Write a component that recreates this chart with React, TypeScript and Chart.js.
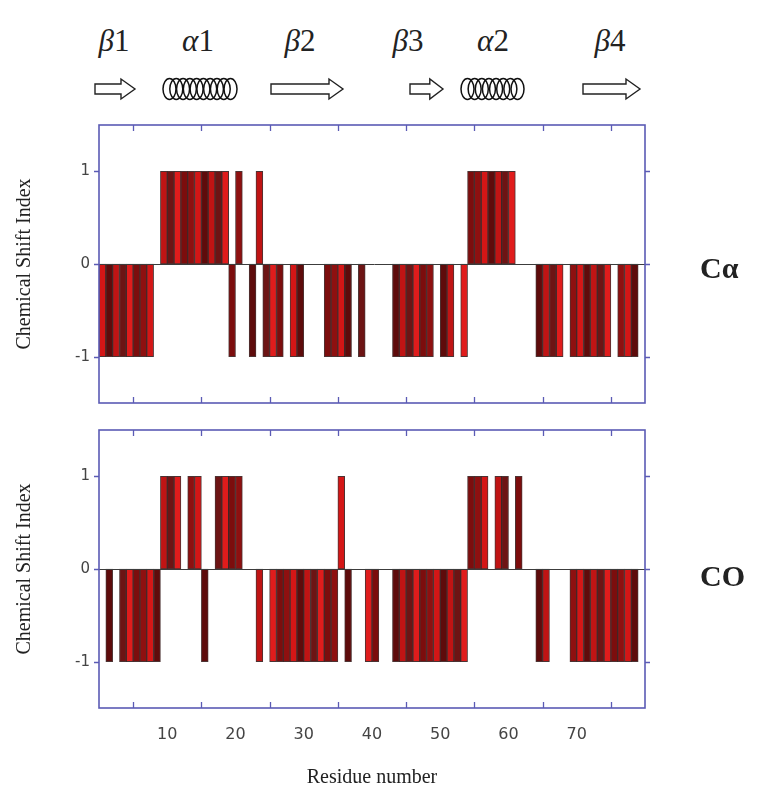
import { useEffect, useRef } from "react";
import { Chart, registerables } from "chart.js";

Chart.register(...registerables);

// Residue numbers 1..79
const residues = [
  1, 2, 3, 4, 5, 6, 7, 8, 9, 10,
  11, 12, 13, 14, 15, 16, 17, 18, 19, 20,
  21, 22, 23, 24, 25, 26, 27, 28, 29, 30,
  31, 32, 33, 34, 35, 36, 37, 38, 39, 40,
  41, 42, 43, 44, 45, 46, 47, 48, 49, 50,
  51, 52, 53, 54, 55, 56, 57, 58, 59, 60,
  61, 62, 63, 64, 65, 66, 67, 68, 69, 70,
  71, 72, 73, 74, 75, 76, 77, 78, 79,
];

// Chemical shift index of the C-alpha nuclei
const caIndex = [
  -1, -1, -1, -1, -1, -1, -1, -1, 0, 1,
  1, 1, 1, 1, 1, 1, 1, 1, 1, -1,
  1, 0, -1, 1, -1, -1, -1, 0, -1, -1,
  0, 0, 0, -1, -1, -1, -1, 0, -1, 0,
  0, 0, 0, -1, -1, -1, -1, -1, -1, 0,
  -1, -1, 0, -1, 1, 1, 1, 1, 1, 1,
  1, 0, 0, 0, -1, -1, -1, -1, 0, -1,
  -1, -1, -1, -1, -1, 0, -1, -1, -1,
];

// Chemical shift index of the carbonyl carbons
const coIndex = [
  0, -1, 0, -1, -1, -1, -1, -1, -1, 1,
  1, 1, 0, 1, 1, -1, 0, 1, 1, 1,
  1, 0, 0, -1, 0, -1, -1, -1, -1, -1,
  -1, -1, -1, -1, -1, 1, -1, 0, 0, -1,
  -1, 0, 0, -1, -1, -1, -1, -1, -1, -1,
  -1, -1, -1, -1, 1, 1, 1, 0, 1, 1,
  0, 1, 0, 0, -1, -1, 0, 0, 0, -1,
  -1, -1, -1, -1, -1, -1, -1, -1, -1,
];

// Axis layout
const xMin = 0;
const xMax = 80;
const xLabelStep = 10;
const xTickMarks = [5, 15, 25, 35, 45, 55, 65, 75];
const yMin = -1.5;
const yMax = 1.5;
const yTickValues = [-1, 0, 1];

// Secondary structure elements drawn above the plots
const strands = [
  { label: "1", from: 95, to: 135 },
  { label: "2", from: 271, to: 343 },
  { label: "3", from: 410, to: 443 },
  { label: "4", from: 583, to: 640 },
];
const helices = [
  { label: "1", from: 163, to: 237, turns: 10 },
  { label: "2", from: 461, to: 524, turns: 8 },
];
const structureLabels = [
  { greek: "β", num: "1", x: 114 },
  { greek: "α", num: "1", x: 198 },
  { greek: "β", num: "2", x: 300 },
  { greek: "β", num: "3", x: 408 },
  { greek: "α", num: "2", x: 493 },
  { greek: "β", num: "4", x: 610 },
];

const barShades = ["#8e1010", "#d41616", "#5e0b0b", "#c01414", "#6d1414", "#e01c1c", "#7c0d0d"];

const serif = "'Liberation Serif', 'DejaVu Serif', serif";
const sans = "'DejaVu Sans', 'Liberation Sans', sans-serif";

// Frame, zero line and tick marks
const framePlugin = {
  id: "csiFrame",
  afterDatasetsDraw(chart: any) {
    const { ctx, chartArea, scales } = chart;
    const { left, right, top, bottom } = chartArea;
    const x = scales.x;
    const y = scales.y;
    ctx.save();
    const y0 = Math.round(y.getPixelForValue(0)) + 0.5;
    ctx.strokeStyle = "#3c3c3c";
    ctx.lineWidth = 1;
    ctx.beginPath();
    ctx.moveTo(left, y0);
    ctx.lineTo(right + 5, y0);
    ctx.stroke();

    ctx.strokeStyle = "#5b5bb5";
    ctx.lineWidth = 1.6;
    ctx.strokeRect(left, top, right - left, bottom - top);

    ctx.lineWidth = 1.3;
    ctx.beginPath();
    for (const v of xTickMarks) {
      const px = Math.round(x.getPixelForValue(v)) + 0.5;
      ctx.moveTo(px, top);
      ctx.lineTo(px, top + 6);
      ctx.moveTo(px, bottom);
      ctx.lineTo(px, bottom - 6);
    }
    for (const v of yTickValues) {
      const py = Math.round(y.getPixelForValue(v)) + 0.5;
      ctx.moveTo(left - 5, py);
      ctx.lineTo(left, py);
      ctx.moveTo(right, py);
      ctx.lineTo(right + 5, py);
    }
    ctx.stroke();
    ctx.restore();
  },
};

function makeConfig(values: number[], showXAxis: boolean): any {
  return {
    type: "bar",
    data: {
      datasets: [
        {
          // each residue's bar fills the interval (r - 1, r]
          data: residues.map((r, i) => ({ x: r - 0.5, y: values[i] })),
          backgroundColor: residues.map((r) => barShades[r % barShades.length]),
          borderColor: "rgba(45,15,15,0.85)",
          borderWidth: 1,
          borderSkipped: false,
          barPercentage: 1,
          categoryPercentage: 1,
        },
      ],
    },
    options: {
      animation: false,
      responsive: false,
      devicePixelRatio: 1,
      layout: {
        padding: showXAxis
          ? { top: 10, right: 139, bottom: 0, left: 0 }
          : { top: 15, right: 139, bottom: 17, left: 0 },
      },
      plugins: { legend: { display: false }, tooltip: { enabled: false } },
      scales: {
        x: {
          type: "linear",
          min: xMin,
          max: xMax,
          offset: false,
          display: showXAxis,
          afterFit: (s: any) => {
            if (showXAxis) s.height = 88;
            s.paddingLeft = 0;
            s.paddingRight = 0;
          },
          grid: { display: false, drawTicks: false, offset: false },
          border: { display: false },
          ticks: {
            stepSize: xLabelStep,
            includeBounds: false,
            padding: 17,
            color: "#444",
            font: { family: sans, size: 16 },
            callback: (v: number) => (v > xMin && v < xMax ? String(v) : ""),
          },
          title: {
            display: true,
            text: "Residue number",
            color: "#222",
            font: { family: serif, size: 20 },
            padding: { top: 0, bottom: 6 },
          },
        },
        y: {
          min: yMin,
          max: yMax,
          afterFit: (s: any) => {
            s.width = 99;
            s.paddingTop = 0;
            s.paddingBottom = 0;
          },
          afterBuildTicks: (s: any) => {
            s.ticks = yTickValues.map((v) => ({ value: v }));
          },
          grid: { display: false, drawTicks: false },
          border: { display: false },
          ticks: {
            padding: 9,
            color: "#444",
            font: { family: sans, size: 15 },
          },
          title: {
            display: true,
            text: "Chemical Shift Index",
            color: "#222",
            font: { family: serif, size: 20 },
            padding: { top: 13, bottom: 0 },
          },
        },
      },
    },
    plugins: [framePlugin],
  };
}

function CsiPanel({ values, showXAxis, top, height }: { values: number[]; showXAxis: boolean; top: number; height: number }) {
  const ref = useRef<HTMLCanvasElement | null>(null);
  useEffect(() => {
    if (!ref.current) return;
    const chart = new Chart(ref.current, makeConfig(values, showXAxis));
    return () => chart.destroy();
  }, [values, showXAxis]);
  return (
    <canvas
      ref={ref}
      width={784}
      height={height}
      style={{ position: "absolute", left: 0, top, width: 784, height }}
    />
  );
}

function arrowPath(x1: number, x2: number, cy: number) {
  const head = Math.min(14, (x2 - x1) * 0.4);
  return `M${x1},${cy - 5} L${x2 - head},${cy - 5} L${x2 - head},${cy - 10} L${x2},${cy} L${x2 - head},${cy + 10} L${x2 - head},${cy + 5} L${x1},${cy + 5} Z`;
}

function Topology() {
  const cy = 89;
  return (
    <svg width={784} height={110} style={{ position: "absolute", left: 0, top: 0 }}>
      {structureLabels.map((s, i) => (
        <text
          key={i}
          x={s.x}
          y={51}
          textAnchor="middle"
          fontFamily={serif}
          fontSize={31}
          fill="#222"
        >
          <tspan fontStyle="italic">{s.greek}</tspan>
          <tspan>{s.num}</tspan>
        </text>
      ))}
      {strands.map((s, i) => (
        <path key={i} d={arrowPath(s.from, s.to, cy)} fill="#fff" stroke="#222" strokeWidth={1.4} />
      ))}
      {helices.map((h, i) => {
        const rx = 6.5;
        const step = (h.to - h.from - 2 * rx) / (h.turns - 1);
        return (
          <g key={i} fill="none" stroke="#111" strokeWidth={1.5}>
            {Array.from({ length: h.turns }, (_, k) => (
              <ellipse key={k} cx={h.from + rx + k * step} cy={cy} rx={rx} ry={10.5} />
            ))}
          </g>
        );
      })}
    </svg>
  );
}

export default function App() {
  return (
    <div style={{ position: "absolute", left: 0, top: 0, width: 784, height: 796, background: "#fff" }}>
      <Topology />
      <CsiPanel values={caIndex} showXAxis={false} top={110} height={310} />
      <CsiPanel values={coIndex} showXAxis={true} top={420} height={376} />
      <div
        style={{
          position: "absolute",
          left: 700,
          top: 252,
          fontFamily: serif,
          fontWeight: "bold",
          fontSize: 30,
          lineHeight: "32px",
          color: "#222",
        }}
      >
        Cα
      </div>
      <div
        style={{
          position: "absolute",
          left: 700,
          top: 560,
          fontFamily: serif,
          fontWeight: "bold",
          fontSize: 30,
          lineHeight: "32px",
          color: "#222",
        }}
      >
        CO
      </div>
    </div>
  );
}
